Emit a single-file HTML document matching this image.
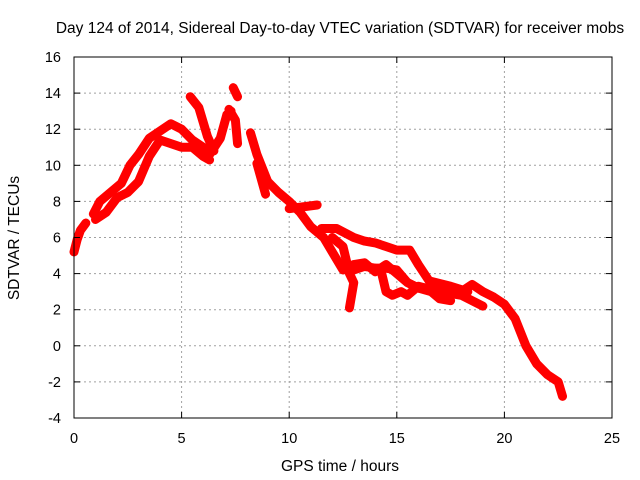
<!DOCTYPE html>
<html><head><meta charset="utf-8"><style>
body{margin:0;background:#fff}
svg{display:block;font-family:"Liberation Sans",sans-serif}
</style></head><body>
<svg id="c" width="640" height="480">
<text x="340" y="33" font-size="15.5" text-anchor="middle">Day 124 of 2014, Sidereal Day-to-day VTEC variation (SDTVAR) for receiver mobs</text>
<text x="340" y="471" font-size="15.5" text-anchor="middle">GPS time / hours</text>
<text x="19" y="238" font-size="15.5" text-anchor="middle" transform="rotate(-90 19 238)">SDTVAR / TECUs</text>
<g id="grid"></g><g id="marks"></g><g id="axes"></g>
</svg>
<script>
const xTicks=[0,5,10,15,20,25];
const yTicks=[-4,-2,0,2,4,6,8,10,12,14,16];
const trackA=[[0,5.2],[0.15,5.9],[0.3,6.4],[0.55,6.8]];
const trackB=[[0.9,7.3],[1.2,8],[1.8,8.6],[2.2,9],[2.6,10],[3,10.6],[3.5,11.5],[4,11.9],[4.5,12.3],[5,12],[5.5,11.4],[6,11],[6.3,10.6],[6.8,11.5],[7.1,12.8],[7.3,13]];
const trackC=[[1,7],[1.5,7.4],[2,8.2],[2.5,8.5],[3,9.1],[3.5,10.5],[4,11.4],[4.5,11.2],[5,11],[5.5,11],[6,10.5],[6.3,10.3]];
const trackD=[[5.4,13.8],[5.8,13.2],[6.2,11.6],[6.5,10.8]];
const trackE=[[7.4,14.3],[7.6,13.8]];
const trackF=[[7.2,13.1],[7.5,12.5],[7.6,11.2]];
const trackG=[[8.2,11.8],[8.5,10.6],[9,9.1],[9.5,8.5],[10,8],[10.5,7.4],[11,6.6],[11.6,6],[12,5.2],[12.5,4.2],[13,4.5],[13.5,4.6],[14,4.1],[14.5,4.5],[15,4],[15.5,3.5],[16,3.2],[17,3],[18,3],[18.5,3.4],[19,3],[19.5,2.7],[20,2.3],[20.5,1.5],[21,0],[21.5,-1],[22,-1.6],[22.5,-2],[22.7,-2.8]];
const trackH=[[8.5,10.1],[8.9,8.4]];
const trackI=[[10,7.6],[11.3,7.8]];
const trackJ=[[11.5,6.5],[12.2,6.5],[13,6],[13.5,5.8],[14,5.7],[14.5,5.5],[15,5.3],[15.6,5.3],[16,4.5],[16.5,3.6],[17.5,3.3],[18.3,3]];
const trackK=[[12,6],[12.5,5.5],[12.8,4],[13,3.5],[12.8,2.1]];
const trackL=[[13,4.2],[13.5,4.4],[14,4.3],[14.5,4.3],[15,4.2],[15.5,3.5],[16,3.2],[16.6,3],[17,2.6],[17.5,2.5]];
const trackM=[[14.3,4],[14.5,3],[14.8,2.8],[15.2,3],[15.5,2.8],[16,3.3],[17,3],[18,2.8],[19,2.2]];
const tracks=[trackA,trackB,trackC,trackD,trackE,trackF,trackG,trackH,trackI,trackJ,trackK,trackL,trackM];
const X0=74,X1=612,Y0=418,Y1=57;
const sx=v=>X0+(v-0)/(25-0)*(X1-X0);
const sy=v=>Y0-(v+4)/(16+4)*(Y0-Y1);
const NS="http://www.w3.org/2000/svg";
function mk(t,a,p){const e=document.createElementNS(NS,t);for(const k in a)e.setAttribute(k,a[k]);p.appendChild(e);return e;}
const grid=document.getElementById('grid'),axes=document.getElementById('axes'),marks=document.getElementById('marks');
xTicks.forEach(t=>{
  if(t>0&&t<25){const g=mk('line',{x1:sx(t),x2:sx(t),y1:Y0,y2:Y1,stroke:'#a0a0a0','stroke-dasharray':'2,3'},grid);
  
  }
  const l=mk('text',{x:sx(t),y:Y0+25,'font-size':'14.5','text-anchor':'middle'},axes);l.textContent=t;
  
  
  mk('line',{x1:sx(t),x2:sx(t),y1:Y0,y2:Y0-6,stroke:'#000'},axes);
  mk('line',{x1:sx(t),x2:sx(t),y1:Y1,y2:Y1+6,stroke:'#000'},axes);
});
yTicks.forEach(t=>{
  if(t>-4&&t<16){const g=mk('line',{x1:X0,x2:X1,y1:sy(t),y2:sy(t),stroke:'#a0a0a0','stroke-dasharray':'2,3'},grid);
  
  }
  const l=mk('text',{x:X0-13,y:sy(t)+5,'font-size':'14.5','text-anchor':'end'},axes);l.textContent=t;
  
  
  mk('line',{x1:X0,x2:X0+6,y1:sy(t),y2:sy(t),stroke:'#000'},axes);
  mk('line',{x1:X1,x2:X1-6,y1:sy(t),y2:sy(t),stroke:'#000'},axes);
});
const fr=mk('rect',{x:X0,y:Y1,width:X1-X0,height:Y0-Y1,fill:'none',stroke:'#000'},axes);


tracks.forEach(tr=>{
  const p=mk('polyline',{points:tr.map(d=>sx(d[0])+','+sy(d[1])).join(' '),fill:'none',stroke:'#ff0000','stroke-width':'9','stroke-linejoin':'round','stroke-linecap':'round'},marks);
  
  
});
</script>
</body></html>
